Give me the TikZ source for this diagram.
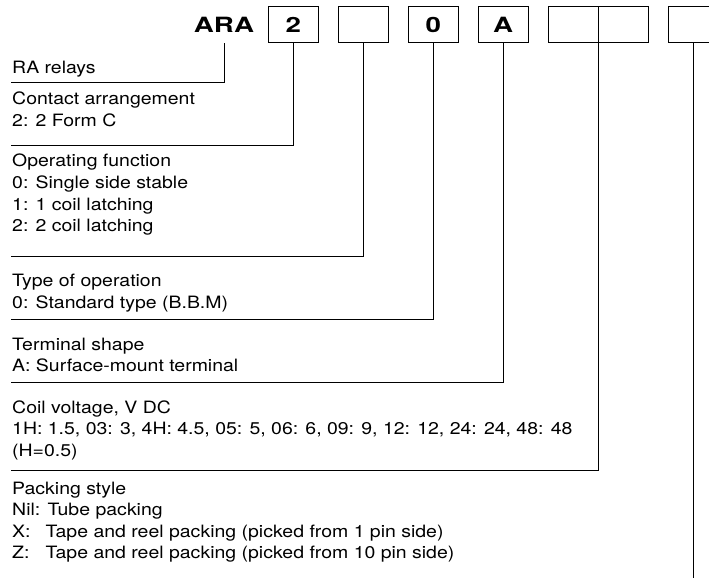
\documentclass[tikz,border=0pt]{standalone}
\usepackage{fontspec}
\setmainfont{TeX Gyre Heros}[FakeStretch=1.145]
\newfontfamily\codefont{TeX Gyre Heros}[FakeStretch=1.32]
\begin{document}
\begin{tikzpicture}[x=1pt,y=-1pt,
  lbl/.style={anchor=base west, inner sep=0pt, font=\fontsize{17}{20}\selectfont},
  codebox/.style={draw, line width=0.9pt, minimum width=50pt, minimum height=36pt, inner sep=0pt, font=\fontsize{21}{25}\codefont\bfseries},
  lead/.style={line width=0.9pt}]
\useasboundingbox (0,0) rectangle (709,579);
% header code
\node[codebox, draw=none] (ara) at (224,24.75) {ARA};
\node[codebox] (b1) at (293.3,24.75) {2};
\node[codebox] (b2) at (363.2,24.75) {};
\node[codebox] (b3) at (433.2,24.75) {0};
\node[codebox] (b4) at (503.2,24.75) {A};
\node[codebox] (b5a) at (573.1,24.75) {};
\node[codebox] (b5b) at (623.1,24.75) {};
\node[codebox] (b6) at (693.3,24.75) {};
% labels
\node[lbl] (t1) at (12,73.3) {RA relays};
\node[lbl] (t2a) at (12,104.3) {Contact arrangement};
\node[lbl] (t2b) at (12,126) {2: 2 Form C};
\node[lbl] (t3a) at (12,166.7) {Operating function};
\node[lbl] (t3b) at (12,188.5) {0: Single side stable};
\node[lbl] (t3c) at (12,210.1) {1: 1 coil latching};
\node[lbl] (t3d) at (12,231.7) {2: 2 coil latching};
\node[lbl] (t4a) at (12,286.7) {Type of operation};
\node[lbl] (t4b) at (12,308.3) {0: Standard type (B.B.M)};
\node[lbl] (t5a) at (12,350) {Terminal shape};
\node[lbl] (t5b) at (12,371.7) {A: Surface-mount terminal};
\node[lbl] (t6a) at (12,413) {Coil voltage, V DC};
\node[lbl] (t6b) at (12,434.8) {1H: 1.5, 03: 3, 4H: 4.5, 05: 5, 06: 6, 09: 9, 12: 12, 24: 24, 48: 48};
\node[lbl] (t6c) at (12,456.6) {(H=0.5)};
\node[lbl] (t7a) at (12,494.5) {Packing style};
\node[lbl] (t7b) at (12,515.8) {Nil: Tube packing};
\node[lbl] (t7c) at (12,537.1) {\rlap{X:}\phantom{Nil:} Tape and reel packing (picked from 1 pin side)};
\node[lbl] (t7d) at (12,558.4) {\rlap{Z:}\phantom{Nil:} Tape and reel packing (picked from 10 pin side)};
% leader ends
\coordinate (c1) at (11,82.3);
\coordinate (c2) at (11,145);
\coordinate (c3) at (11,256.7);
\coordinate (c4) at (11,319.3);
\coordinate (c5) at (11,382.7);
\coordinate (c6) at (11,470);
\coordinate (c7) at (693.3,578);
% leaders
\draw[lead] (ara.south) |- (c1);
\draw[lead] (b1.south) |- (c2);
\draw[lead] (b2.south) |- (c3);
\draw[lead] (b3.south) |- (c4);
\draw[lead] (b4.south) |- (c5);
\draw[lead] (b5a.south east) |- (c6);
\draw[lead] (b6.south) -- (c7);
\end{tikzpicture}
\end{document}
